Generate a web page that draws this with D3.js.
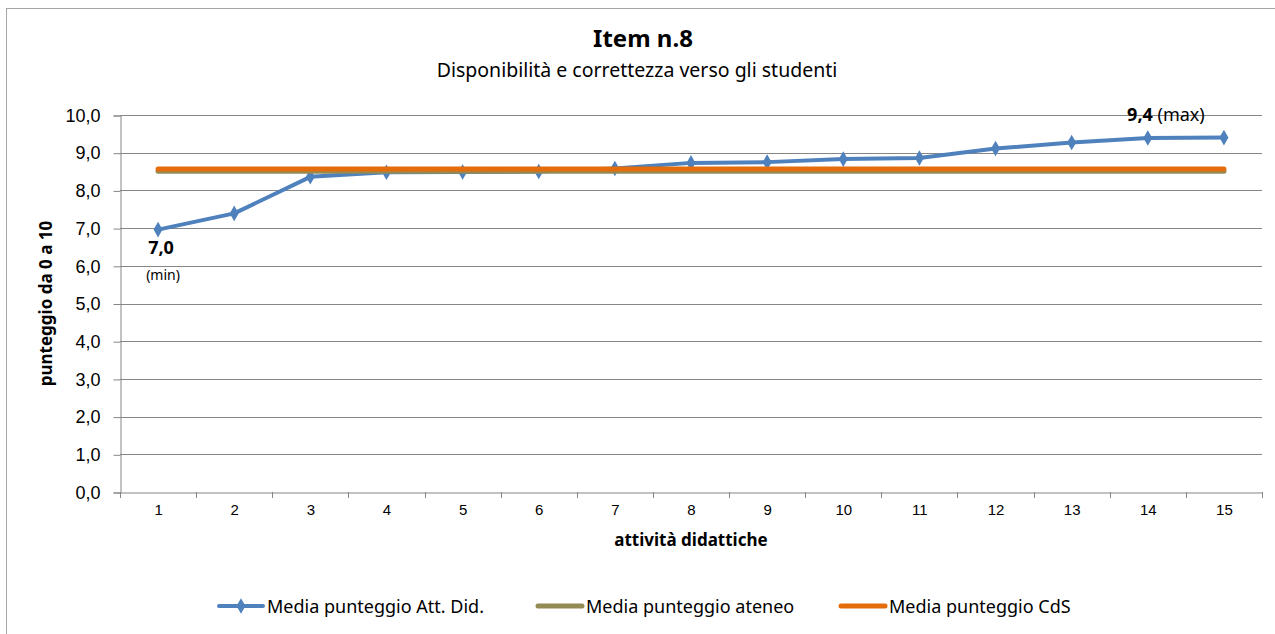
<!DOCTYPE html>
<html><head><meta charset="utf-8">
<script src="https://cdn.jsdelivr.net/npm/d3@7"></script>
<style>body{margin:0;background:#fff;}svg{display:block;font-family:"Noto Sans","Open Sans",sans-serif;}</style>
</head><body>
<svg id="chart" width="1275" height="634"></svg>
<script>
const categories = ["1","2","3","4","5","6","7","8","9","10","11","12","13","14","15"];
const attDid = [6.96,7.39,8.36,8.48,8.49,8.50,8.58,8.73,8.75,8.83,8.86,9.11,9.27,9.39,9.40];
const ateneo = [8.51,8.51,8.51,8.51,8.51,8.51,8.51,8.51,8.51,8.51,8.51,8.51,8.51,8.51,8.51];
const cds = [8.57,8.57,8.57,8.57,8.57,8.57,8.57,8.57,8.57,8.57,8.57,8.57,8.57,8.57,8.57];
const yTicks = [0,1,2,3,4,5,6,7,8,9,10];
const seriesNames = ["Media punteggio Att. Did.","Media punteggio ateneo","Media punteggio CdS"];
const colors = ["#4F81BD","#948A54","#E46C0A"];

const svg = d3.select("#chart");
const fmt = v => d3.format(".1f")(v).replace(".", ",");

// outer frame
svg.append("rect").attr("x",6.5).attr("y",8.5).attr("width",1300).attr("height",700)
  .attr("fill","none").attr("stroke","#a6a6a6").attr("stroke-width",1);

const pL=120, pR=1262, pT=115, pB=492;
const x = d3.scaleBand().domain(categories).range([pL,pR]);
const y = d3.scaleLinear().domain([0,10]).range([pB,pT]);
const cx = c => x(c) + x.bandwidth()/2;

// gridlines
svg.append("g").selectAll("line").data(yTicks.filter(t=>t>0)).join("line")
  .attr("x1",pL).attr("x2",pR).attr("y1",d=>Math.round(y(d))+0.5).attr("y2",d=>Math.round(y(d))+0.5)
  .attr("stroke","#868686").attr("stroke-width",1);

// y axis
const yAxis = svg.append("g").attr("transform",`translate(${pL+0.5},0.5)`)
  .call(d3.axisLeft(y).tickValues(yTicks).tickFormat(fmt).tickSize(7).tickPadding(13));
yAxis.select(".domain").attr("stroke","#868686");
yAxis.selectAll(".tick line").attr("stroke","#868686");
yAxis.selectAll(".tick text").attr("font-size",18).attr("fill","#000").attr("font-family","inherit");

// x axis
const xAxis = svg.append("g").attr("transform",`translate(0.5,${pB+0.5})`)
  .call(d3.axisBottom(x).tickSize(0).tickPadding(12));
xAxis.select(".domain").attr("stroke","#868686");
xAxis.selectAll(".tick text").attr("font-size",15).attr("fill","#000").attr("font-family","inherit");
// x tick marks at category boundaries
svg.append("g").selectAll("line").data(categories.concat(["end"])).join("line")
  .attr("x1",(d,i)=>Math.round(i<categories.length? x(d): pR)+0.5)
  .attr("x2",(d,i)=>Math.round(i<categories.length? x(d): pR)+0.5)
  .attr("y1",pB).attr("y2",pB+6).attr("stroke","#868686");

const line = d3.line().x((d,i)=>cx(categories[i])).y(d=>y(d));
// main series (drawn first, underneath the averages)
svg.append("path").datum(attDid).attr("d",line).attr("fill","none")
  .attr("stroke",colors[0]).attr("stroke-width",4).attr("stroke-linejoin","round");
const diamond = d3.symbol().type(d3.symbolDiamond).size(70);
svg.append("g").selectAll("path").data(attDid).join("path")
  .attr("d",diamond).attr("transform",(d,i)=>`translate(${cx(categories[i])},${y(d)})`)
  .attr("fill",colors[0]);
// reference lines
svg.append("path").datum(ateneo).attr("d",line).attr("fill","none")
  .attr("stroke",colors[1]).attr("stroke-width",5).attr("stroke-linecap","round");
svg.append("path").datum(cds).attr("d",line).attr("fill","none")
  .attr("stroke",colors[2]).attr("stroke-width",5).attr("stroke-linecap","round");

// min / max labels
const iMin = attDid.indexOf(d3.min(attDid)), iMax = attDid.indexOf(d3.max(attDid));
svg.append("text").attr("x",cx(categories[iMin])+3).attr("y",y(attDid[iMin])+24)
  .attr("text-anchor","middle").attr("font-size",18).attr("font-weight","bold").text(fmt(attDid[iMin]));
svg.append("text").attr("x",cx(categories[iMin])+5).attr("y",y(attDid[iMin])+50)
  .attr("text-anchor","middle").attr("font-size",14).text("(min)");
const mx = svg.append("text").attr("x",cx(categories[iMax])-58).attr("y",y(attDid[iMax])-17)
  .attr("text-anchor","middle").attr("font-size",18);
mx.append("tspan").attr("font-weight","bold").text(fmt(attDid[iMax]));
mx.append("tspan").text(" (max)");

// titles
svg.append("text").attr("x",643).attr("y",47).attr("text-anchor","middle")
  .attr("font-size",24).attr("font-weight","bold").text("Item n.8");
svg.append("text").attr("x",637).attr("y",77).attr("text-anchor","middle")
  .attr("font-size",19.5).text("Disponibilità e correttezza verso gli studenti");
svg.append("text").attr("x",(pL+pR)/2).attr("y",546).attr("text-anchor","middle")
  .attr("font-size",17).attr("font-weight","bold").text("attività didattiche");
svg.append("text").attr("transform",`translate(52,${(pT+pB)/2}) rotate(-90)`)
  .attr("text-anchor","middle").attr("font-size",17).attr("font-weight","bold").text("punteggio da 0 a 10");

// legend
const legX = [219, 538, 841];
const lg = svg.append("g");
seriesNames.forEach((n,i)=>{
  const g = lg.append("g").attr("transform",`translate(${legX[i]},606)`);
  g.append("line").attr("x1",0).attr("x2",44).attr("y1",0).attr("y2",0)
    .attr("stroke",colors[i]).attr("stroke-width",i===0?4:5).attr("stroke-linecap","round");
  if(i===0) g.append("path").attr("d",diamond).attr("transform","translate(22,0)").attr("fill",colors[0]);
  g.append("text").attr("x",48).attr("y",6.5).attr("font-size",18).text(n);
});
</script>
</body></html>
